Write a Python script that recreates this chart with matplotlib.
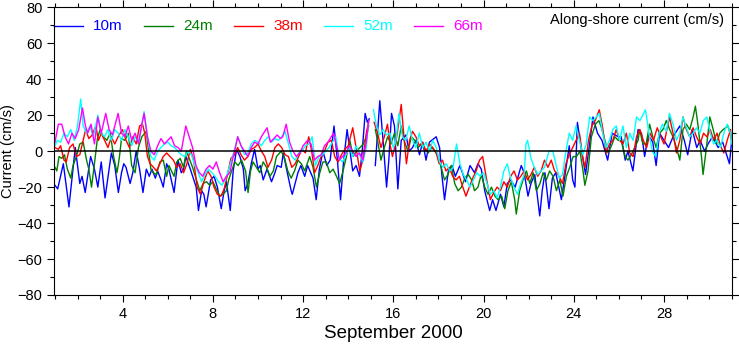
import numpy as np
import matplotlib
matplotlib.use("Agg")
import matplotlib.pyplot as plt
from matplotlib.ticker import MultipleLocator
from matplotlib.lines import Line2D

nan = np.nan

# ---------------- data (day of September 2000, cm/s) ----------------
t10 = [1.00,1.12,1.37,1.62,1.90,2.10,2.20,2.34,2.58,2.75,
       2.90,3.05,3.22,3.50,3.65,3.81,3.95,4.05,4.15,4.33,
       4.45,4.60,4.75,4.90,5.05,5.18,5.30,5.45,5.55,5.70,
       5.80,5.95,6.05,6.28,6.45,6.60,6.70,6.80,7.00,7.26,
       7.36,7.50,7.60,7.70,7.90,8.05,8.20,8.37,8.50,8.60,
       8.77,8.90,9.05,9.20,9.35,9.43,9.55,9.70,9.85,10.00,
       10.10,10.23,10.40,10.60,10.75,10.85,11.03,11.12,11.30,11.47,
       11.52,11.77,11.90,12.07,12.20,12.44,12.58,12.72,12.88,13.05,
       13.20,13.37,13.52,13.66,13.80,13.95,14.20,14.35,14.50,14.62,
       14.75,14.85,14.93,15.05,15.20,15.40,15.55,15.70,15.80,15.92,
       16.05,16.20,16.35,16.56,16.70,16.85,17.00,17.16,17.30,17.45,
       17.60,17.90,18.05,18.15,18.27,18.45,18.60,18.75,18.95,19.20,
       19.40,19.60,19.75,19.90,20.05,20.27,20.40,20.55,20.75,20.90,
       21.05,21.20,21.40,21.67,21.80,21.97,22.10,22.27,22.49,22.60,
       22.72,22.90,23.05,23.20,23.45,23.65,23.80,23.95,24.05,24.16,
       24.35,24.52,24.70,24.85,25.05,25.25,25.50,25.70,25.97,26.10,
       26.28,26.40,26.62,26.85,27.00,27.14,27.30,27.50,27.65,27.80,
       28.00,28.20,28.40,28.70,28.90,29.05,29.25,29.45,29.60,29.80,
       29.95,30.15,30.40,30.60,30.90,31.00]
v10 = [-19,-21,-7,-31,2,-18,-14,-23,-3,-10,
       -20,-6,-26,-1,-8,-23,-12,-7,-9,-18,
       -12,0,-10,-23,-10,-14,-10,-15,-11,-16,
       -20,-7,-10,-23,-5,-12,-10,-3,-10,-20,
       -33,-22,-24,-31,-16,-14,-20,-32,-22,-17,
       -33,-11,1,-3,-10,-22,-18,-7,1,-10,
       -8,-16,-10,-17,-12,-8,-9,-1,-12,-22,
       -24,-12,-8,-14,-8,-15,-27,-10,0,-8,
       -5,14,-5,-27,-5,12,-11,-8,-14,0,
       21,16,18,nan,-8,28,5,-20,-5,21,
       14,-21,6,9,0,2,6,-2,5,-5,
       5,8,2,-13,-27,-10,-8,-14,-8,-17,
       -8,-12,-7,-10,-22,-33,-27,-33,-24,-31,
       -18,-16,-20,-8,-12,-25,-18,-13,-36,-22,
       -12,-32,-15,-12,-27,-10,3,-16,-20,16,
       0,-13,4,19,10,6,-5,10,8,8,
       -5,0,-11,12,10,-3,9,5,-8,10,
       6,2,8,14,6,-2,12,2,6,0,
       4,8,2,5,-7,6]

t24 = [1.00,1.08,1.18,1.30,1.42,1.55,1.70,1.80,1.95,2.10,
       2.25,2.40,2.50,2.62,2.75,2.88,3.00,3.15,3.30,3.45,
       3.60,3.75,3.85,3.95,4.10,4.25,4.40,4.55,4.70,4.85,
       5.05,5.15,5.25,5.35,5.50,5.65,5.80,5.95,6.05,6.28,
       6.40,6.55,6.70,6.83,6.95,7.10,7.27,7.42,7.57,7.72,
       7.86,8.00,8.15,8.30,8.45,8.60,8.70,8.83,8.97,9.12,
       9.27,9.45,9.56,9.67,9.78,9.93,10.08,10.23,10.38,10.53,
       10.68,10.82,11.03,11.18,11.32,11.47,11.62,11.77,11.92,12.07,
       12.29,12.44,12.59,12.74,12.88,13.03,13.18,13.33,13.48,13.62,
       13.77,13.92,14.07,14.22,14.37,14.52,14.67,14.80,14.91,15.05,
       15.20,15.30,15.45,15.60,15.75,15.90,16.05,16.20,16.35,16.50,
       16.65,16.80,16.95,17.10,17.25,17.40,17.55,17.70,17.85,17.98,
       18.12,18.27,18.42,18.57,18.72,18.87,19.02,19.17,19.32,19.47,
       19.60,19.75,19.90,20.05,20.20,20.35,20.50,20.64,20.80,20.94,
       21.08,21.23,21.38,21.45,21.60,21.75,21.90,22.05,22.20,22.34,
       22.50,22.64,22.78,22.93,23.08,23.23,23.38,23.52,23.67,23.82,
       23.97,24.12,24.27,24.41,24.49,24.63,24.78,24.96,25.11,25.23,
       25.38,25.52,25.67,25.82,25.97,26.10,26.28,26.40,26.55,26.70,
       26.85,26.92,27.06,27.21,27.36,27.50,27.65,27.80,27.95,28.10,
       28.25,28.40,28.55,28.70,28.84,28.99,29.14,29.29,29.39,29.50,
       29.66,29.73,29.88,30.03,30.18,30.33,30.47,30.62,30.84,31.00]
v24 = [-9,-11,-3,-4,-2,-10,-15,-8,-3,4,
       5,-5,-10,-20,-7,7,12,8,6,10,
       -3,-12,-4,7,6,10,-8,-12,2,8,
       11,0,-10,-12,-13,-6,-5,-14,-8,-14,
       -6,-4,-9,0,-4,-9,-16,-22,-18,-17,
       -19,-17,-21,-25,-24,-22,-16,-11,-6,-8,
       -5,-11,-23,-11,-6,-9,-12,-6,-9,-14,
       -11,-3,0,-4,-11,-15,-11,-5,-7,-11,
       -3,-9,-20,-12,-6,-6,-12,-10,-14,-18,
       -11,-3,6,-3,0,2,4,8,14,nan,
       12,6,-5,2,8,4,10,3,14,5,
       0,8,6,2,4,1,-1,2,0,-3,
       -9,-16,-13,-8,-18,-22,-20,-15,-13,-16,
       -22,-20,-13,-20,-24,-20,-25,-27,-25,-32,
       -22,-17,-27,-35,-22,-16,-11,-18,-12,-22,
       -18,-12,-16,-11,-14,-22,-16,-25,-14,-9,
       -3,-3,0,-11,-19,-11,8,15,17,13,
       6,-1,3,8,6,6,-3,-5,-2,2,
       6,12,4,4,15,8,2,10,12,17,
       12,8,2,-5,12,15,12,19,25,15,
       -3,-13,2,19,12,4,10,12,14,6]

t38 = [1.00,1.15,1.25,1.40,1.50,1.65,1.80,1.95,2.10,2.25,
       2.36,2.50,2.65,2.81,2.93,3.05,3.20,3.35,3.50,3.65,
       3.80,3.99,4.15,4.30,4.45,4.60,4.75,4.88,4.98,5.10,
       5.22,5.37,5.50,5.65,5.80,5.95,6.10,6.25,6.40,6.55,
       6.70,6.85,7.00,7.15,7.30,7.45,7.60,7.77,7.92,8.05,
       8.20,8.36,8.50,8.65,8.80,8.96,9.10,9.25,9.40,9.55,
       9.70,9.85,10.00,10.15,10.30,10.44,10.60,10.75,10.90,11.05,
       11.20,11.35,11.50,11.65,11.80,11.95,12.10,12.25,12.38,12.51,
       12.65,12.80,12.95,13.10,13.25,13.40,13.55,13.70,13.85,14.00,
       14.20,14.35,14.51,14.65,14.80,14.91,15.05,15.15,15.30,15.45,
       15.60,15.74,15.85,15.96,16.10,16.22,16.35,16.47,16.58,16.72,
       16.85,17.00,17.15,17.30,17.45,17.60,17.75,17.90,18.03,18.18,
       18.33,18.48,18.63,18.78,18.93,19.08,19.22,19.37,19.52,19.67,
       19.82,19.96,20.11,20.30,20.45,20.60,20.75,20.90,21.05,21.20,
       21.35,21.50,21.65,21.80,21.95,22.10,22.25,22.40,22.55,22.70,
       22.85,23.00,23.15,23.30,23.50,23.65,23.80,23.95,24.10,24.25,
       24.40,24.50,24.65,24.80,24.95,25.13,25.28,25.43,25.58,25.73,
       25.88,26.03,26.18,26.33,26.48,26.63,26.78,26.93,27.08,27.23,
       27.38,27.53,27.70,27.85,28.00,28.24,28.40,28.55,28.70,28.84,
       28.99,29.14,29.29,29.44,29.60,29.75,29.90,30.05,30.20,30.35,
       30.50,30.65,30.80,30.95,31.00]
v38 = [2,1,3,-5,-6,2,4,-3,-2,6,
       12,7,9,14,6,10,6,2,8,4,
       8,12,6,2,8,4,14,15,10,-3,
       -7,-9,-11,-7,-3,-1,-3,-5,-9,-7,
       -12,-7,1,-5,-20,-24,-17,-11,-14,-20,
       -24,-25,-21,-13,-4,-2,2,-2,-5,-3,
       1,2,4,0,-3,-9,-5,2,4,2,
       -2,-3,-9,-7,-3,1,-1,8,0,-12,
       -8,-3,0,5,6,-3,-6,-2,1,3,
       13,2,-11,-5,10,17,nan,16,10,2,
       8,15,4,-3,4,14,26,8,-7,6,
       11,8,3,5,0,4,2,-1,-7,-5,
       -11,-9,-14,-16,-14,-20,-25,-20,-15,-11,
       -5,-3,-14,-27,-23,-20,-22,-17,-20,-14,
       -11,-16,-14,-11,-16,-13,-9,-14,-11,-5,
       -9,-5,-11,-13,-18,-7,-2,2,6,10,
       -4,-9,6,14,17,23,13,-1,4,6,
       12,6,4,10,-1,-3,8,12,6,2,
       10,6,13,8,4,19,10,-1,6,19,
       12,8,13,8,4,10,8,12,6,10,
       3,-1,6,12,4]

t52 = [1.00,1.10,1.25,1.40,1.55,1.70,1.85,2.00,2.14,2.25,
       2.40,2.55,2.70,2.90,3.05,3.20,3.35,3.50,3.65,3.80,
       3.95,4.10,4.25,4.40,4.55,4.70,4.85,4.95,5.10,5.25,
       5.40,5.55,5.70,5.85,6.00,6.15,6.30,6.45,6.60,6.75,
       6.90,7.05,7.20,7.35,7.50,7.65,7.80,7.95,8.10,8.25,
       8.40,8.55,8.70,8.85,9.00,9.10,9.25,9.40,9.55,9.70,
       9.85,10.00,10.15,10.30,10.45,10.60,10.75,10.90,11.05,11.20,
       11.35,11.50,11.65,11.80,11.95,12.10,12.25,12.40,12.55,12.70,
       12.85,13.00,13.15,13.30,13.45,13.60,13.75,13.90,14.05,14.20,
       14.35,14.50,14.65,14.80,14.91,15.05,15.12,15.25,15.40,15.55,
       15.70,15.85,16.00,16.10,16.25,16.40,16.55,16.70,16.85,17.00,
       17.15,17.30,17.45,17.60,17.75,17.90,18.05,18.20,18.35,18.50,
       18.65,18.80,18.95,19.10,19.25,19.40,19.55,19.70,19.85,20.00,
       20.15,20.30,20.45,20.60,20.75,20.90,21.05,21.20,21.35,21.50,
       21.65,21.80,21.88,21.95,22.10,22.25,22.40,22.55,22.70,22.90,
       23.07,23.20,23.35,23.50,23.65,23.80,23.95,24.10,24.25,24.40,
       24.55,24.70,24.85,25.00,25.13,25.28,25.43,25.58,25.73,25.88,
       26.03,26.18,26.33,26.48,26.63,26.78,26.93,27.18,27.33,27.48,
       27.63,27.78,27.93,28.10,28.24,28.40,28.55,28.70,28.84,28.99,
       29.14,29.29,29.44,29.59,29.74,29.90,30.05,30.20,30.35,30.50,
       30.65,30.80,30.95,31.00]
v52 = [3,6,5,10,8,12,6,14,29,14,
       10,14,8,20,10,8,12,6,12,10,
       6,12,8,3,8,5,14,22,8,-3,
       -5,0,2,4,5,3,2,0,-2,-3,
       0,-2,-8,-12,-17,-13,-10,-12,-14,-17,
       -19,-16,-10,-4,3,8,3,-2,-1,4,
       6,5,3,6,8,5,7,6,8,11,
       4,-3,-5,-1,0,3,4,8,-8,-3,
       -2,0,2,5,8,-4,-6,-2,2,-3,
       3,-2,-6,2,17,nan,23,14,9,12,
       9,10,2,5,21,8,6,14,6,2,
       10,2,5,0,6,2,-6,-9,-7,-11,
       -9,4,-7,-13,-16,-20,-16,-12,-14,-12,
       -18,-24,-22,-26,-20,-11,-7,-15,-20,-24,
       -18,-13,4,6,-4,-9,-13,-11,-9,0,
       0,-7,-15,-13,0,10,6,14,6,-2,
       4,19,17,19,21,10,2,6,12,14,
       6,14,2,10,6,19,17,23,10,0,
       -3,10,15,11,21,15,6,10,19,13,
       8,10,13,10,17,19,10,4,6,2,
       10,15,10,4]

t66 = [1.00,1.15,1.30,1.45,1.60,1.75,1.90,2.05,2.22,2.35,
       2.45,2.60,2.75,2.90,3.05,3.25,3.40,3.55,3.65,3.80,
       3.95,4.10,4.25,4.40,4.55,4.70,4.85,4.95,5.10,5.25,
       5.40,5.55,5.70,5.85,6.00,6.15,6.30,6.45,6.60,6.80,
       6.95,7.10,7.25,7.40,7.55,7.70,7.85,8.00,8.15,8.30,
       8.45,8.60,8.75,8.90,9.00,9.10,9.25,9.40,9.55,9.70,
       9.85,10.00,10.15,10.40,10.55,10.70,10.85,11.00,11.10,11.25,
       11.40,11.55,11.70,11.85,12.00,12.20,12.35,12.50,12.65,12.80,
       12.95,13.10,13.35,13.50,13.60,13.75,13.90,14.05,14.20,14.35,
       14.50,14.65,14.80,14.91]
v66 = [5,15,15,8,4,10,7,12,24,14,
       10,15,4,19,10,21,12,9,14,21,
       10,8,14,6,10,4,15,21,8,0,
       -2,3,7,4,6,8,3,2,0,14,
       8,2,-8,-12,-14,-10,-8,-10,-6,-12,
       -17,-14,-12,-3,2,8,3,0,-3,2,
       5,4,8,13,5,7,9,7,8,15,
       5,0,-3,-1,3,6,4,-5,-3,-2,
       3,5,10,2,-5,-3,-1,3,0,-3,
       -1,-5,5,17]

depth_labels = ["10m", "24m", "38m", "52m", "66m"]
series_t = [t10, t24, t38, t52, t66]
series_v = [v10, v24, v38, v52, v66]
colors = ["#0000ff", "#008000", "#ff0000", "#00ffff", "#ff00ff"]
xtick_vals = [4, 8, 12, 16, 20, 24, 28]

# ---------------- figure ----------------
plt.rcParams['font.family'] = ['Liberation Sans', 'DejaVu Sans']
W, H = 739, 345
fig = plt.figure(figsize=(W / 100, H / 100), dpi=100)
L, R, T, B = 54.3, 731.7, 7.3, 295.0
ax = fig.add_axes([L / W, 1 - B / H, (R - L) / W, (B - T) / H])

for tt, vv, c in zip(series_t, series_v, colors):
    ax.plot(tt, vv, color=c, lw=1.0, solid_joinstyle='round')

ax.axhline(0, color='black', lw=1.1, zorder=5)

ax.set_xlim(0.97, 31.0)
ax.set_ylim(-80, 80)
ax.set_xticks(xtick_vals)
ax.xaxis.set_minor_locator(MultipleLocator(1))
ax.yaxis.set_major_locator(MultipleLocator(20))
ax.yaxis.set_minor_locator(MultipleLocator(10))
ax.tick_params(which='both', direction='out', top=True, right=True,
               labelsize=10.5, width=0.8, colors='black')
ax.tick_params(which='major', length=5, pad=3.5)
ax.tick_params(which='minor', length=3.2)
for s in ax.spines.values():
    s.set_linewidth(0.8)

ax.set_xlabel("September 2000", fontsize=13.5, labelpad=3)
ax.set_ylabel("Current (cm/s)", fontsize=10.5, labelpad=2)

ax.text((724 - L) / (R - L), (B - 20) / (B - T), "Along-shore current (cm/s)",
        transform=ax.transAxes, ha='right', va='center', fontsize=10.5)

# legend (handles + coloured labels)
ly = (B - 26) / (B - T)
for i, (lab, c) in enumerate(zip(depth_labels, colors)):
    x0 = (L + 90 * i - L) / (R - L)
    x1 = (L + 90 * i + 29 - L) / (R - L)
    ax.add_line(Line2D([x0, x1], [ly, ly], transform=ax.transAxes, color=c,
                       lw=1.0, clip_on=False))
    ax.text((L + 90 * i + 39 - L) / (R - L), ly, lab, transform=ax.transAxes,
            ha='left', va='center', color=c, fontsize=11)

fig.savefig("out.png", dpi=100)
